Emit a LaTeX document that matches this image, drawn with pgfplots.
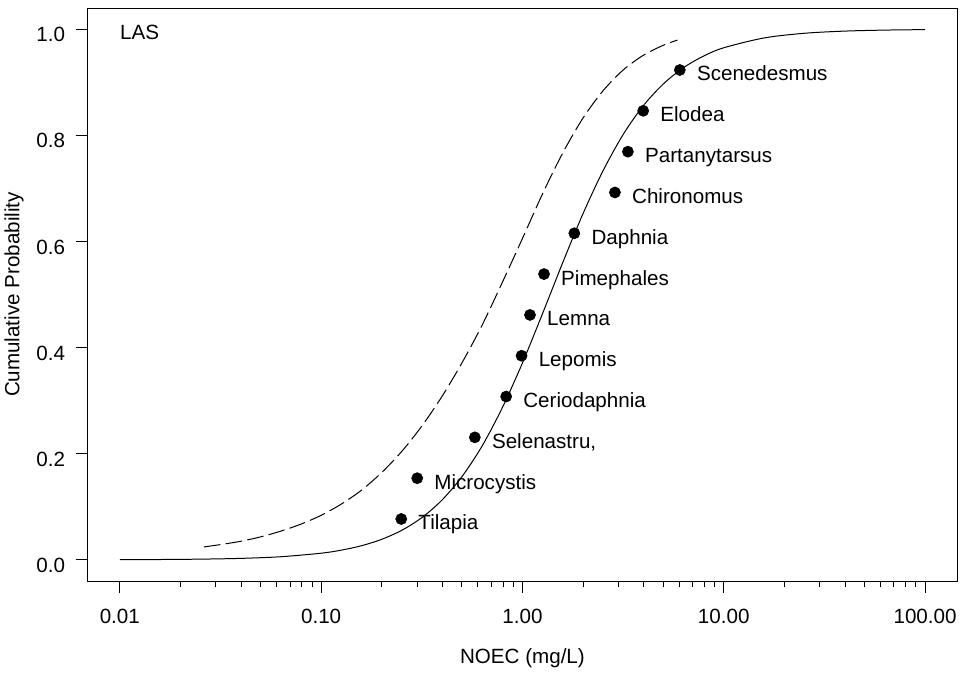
\documentclass[border=0pt]{standalone}
\usepackage{fontspec}
\setmainfont{Liberation Sans}
\usepackage{pgfplots}
\pgfplotsset{compat=1.18}
\usepackage{pgfplotstable}

% fitted distribution (solid)
\pgfplotstableread{
x y
0.01 0.00027
0.01585 0.00058
0.02512 0.00126
0.03981 0.00271
0.0631 0.00582
0.1 0.01247
0.1259 0.01822
0.1585 0.02651
0.1995 0.0385
0.2512 0.0555
0.3162 0.0794
0.3981 0.1125
0.5012 0.157
0.631 0.2148
0.7943 0.2866
1 0.371
1.259 0.4643
1.585 0.560
1.995 0.6515
2.512 0.733
3.162 0.8014
3.981 0.8556
5.012 0.8969
6.31 0.9275
7.943 0.9494
10 0.9650
15.85 0.9835
25.12 0.9923
39.81 0.9964
63.1 0.9983
100 0.9992
}\fittedcurve

% lower bound (dashed)
\pgfplotstableread{
x y
0.02618 0.0243
0.03162 0.0287
0.03981 0.0349
0.05012 0.0433
0.0631 0.0541
0.07943 0.0673
0.1 0.0839
0.1259 0.1050
0.1585 0.1311
0.1995 0.1641
0.2512 0.2041
0.3162 0.2520
0.3981 0.3077
0.5012 0.3715
0.631 0.4425
0.7943 0.5227
1 0.6056
1.259 0.6900
1.585 0.7666
1.995 0.8320
2.512 0.8838
3.162 0.9230
3.981 0.9507
5.012 0.9698
5.888 0.9794
}\lowercurve

% species NOEC
\pgfplotstableread{
x y label
0.25 0.0769 Tilapia
0.30 0.1538 Microcystis
0.58 0.2308 Selenastru,
0.83 0.3077 Ceriodaphnia
0.99 0.3846 Lepomis
1.09 0.4615 Lemna
1.28 0.5385 Pimephales
1.81 0.6154 Daphnia
2.88 0.6923 Chironomus
3.34 0.7692 Partanytarsus
3.98 0.8462 Elodea
6.05 0.9231 Scenedesmus
}\species

\begin{document}
\begin{tikzpicture}[font=\fontsize{15.5}{18}\selectfont]
  \begin{semilogxaxis}[
    name=main,
    width=654.4pt, height=431.25pt, scale only axis,
    xmin=0.00692, xmax=144.5,
    ymin=-0.04, ymax=1.04,
    xtick={0.01,0.1,1,10,100},
    xticklabels={0.01,0.10,1.00,10.00,100.00},
    minor xtick={0.02,0.03,0.04,0.05,0.06,0.07,0.08,0.09,
                 0.2,0.3,0.4,0.5,0.6,0.7,0.8,0.9,
                 2,3,4,5,6,7,8,9,20,30,40,50,60,70,80,90},
    ytick={0,0.2,0.4,0.6,0.8,1.0},
    yticklabels={0.0,0.2,0.4,0.6,0.8,1.0},
    tick pos=left,
    tick align=outside,
    major tick length=9pt,
    minor tick length=4.5pt,
    every tick/.style={black, line width=0.6pt},
    axis line style={line width=0.6pt},
    xticklabel style={anchor=base, yshift=-23pt},
    yticklabel style={anchor=base east, xshift=-4.5pt, yshift=-9.5pt},
    xlabel={NOEC (mg/L)},
    ylabel={Cumulative Probability},
    xlabel style={at={(axis description cs:0.5,0)}, anchor=base, yshift=-62.25pt},
    ylabel style={at={(axis description cs:0,0.5)}, anchor=base, yshift=51.4pt},
    clip=false,
  ]
    \addplot[black, line width=0.75pt, smooth] table {\fittedcurve};
    \addplot[black, line width=0.75pt, smooth, dash pattern=on 12.5pt off 4pt] table {\lowercurve};
    \addplot[only marks, mark=*, mark size=4.2pt, black,
      nodes near coords, point meta=explicit symbolic,
      every node near coord/.style={anchor=base west, xshift=12.75pt, yshift=-8.25pt, black, inner sep=0pt}]
      table[meta=label] {\species};
    \node[anchor=west, inner sep=0pt] at (axis cs:0.01,0.993) {LAS};
  \end{semilogxaxis}
  \path (main.south west) ++(-65.6pt,-66pt);
  \path (main.north east) ++(0.75pt,6pt);
\end{tikzpicture}
\end{document}
